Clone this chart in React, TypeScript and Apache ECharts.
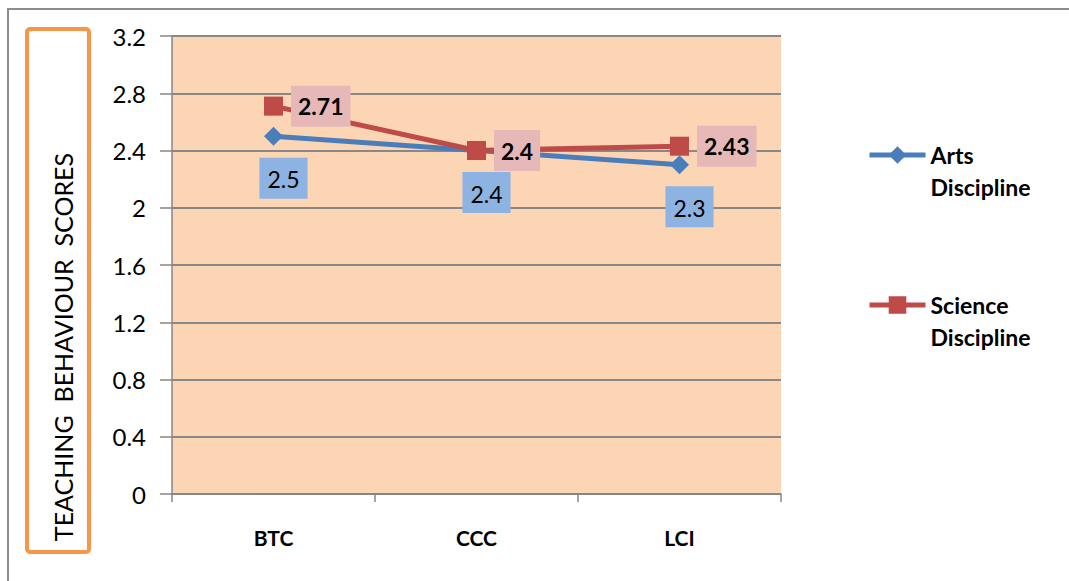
import React, { useEffect, useRef } from "react";
import * as echarts from "echarts";

const categories = ["BTC", "CCC", "LCI"];
const artsValues = [2.5, 2.4, 2.3];
const scienceValues = [2.71, 2.4, 2.43];
const seriesNames = ["Arts Discipline", "Science Discipline"];
const yAxisTitle = "TEACHING  BEHAVIOUR  SCORES";

const FONT = "Lato, 'Liberation Sans', sans-serif";

export default function App() {
  const ref = useRef<HTMLDivElement>(null);
  useEffect(() => {
    if (!ref.current) return;
    const chart = echarts.init(ref.current, null, { renderer: "svg" });
    chart.setOption({
      animation: false,
      textStyle: { fontFamily: FONT },
      graphic: [
        {
          type: "polyline",
          shape: { points: [[8, 600], [8, 9], [1080, 9]] },
          style: { stroke: "#8c8c8c", lineWidth: 2, fill: "none" },
          silent: true,
        },
        {
          type: "rect",
          shape: { x: 27, y: 29, width: 62, height: 523, r: 3 },
          style: { stroke: "#F79646", lineWidth: 4, fill: "#ffffff" },
          silent: true,
        },
        {
          type: "text",
          x: 63,
          y: 347,
          rotation: Math.PI / 2,
          style: {
            text: yAxisTitle,
            fontFamily: FONT,
            fontSize: 25,
            fill: "#000",
            align: "center",
            verticalAlign: "middle",
          },
          silent: true,
        },
      ],
      legend: {
        orient: "vertical",
        left: 862,
        top: 102,
        itemWidth: 56,
        itemHeight: 22,
        itemGap: 54,
        data: seriesNames,
        formatter: (name: string) => " \n" + name.replace(" ", "\n"),
        lineStyle: { width: 5 },
        textStyle: {
          fontFamily: FONT,
          fontSize: 23,
          fontWeight: "bold",
          color: "#000",
          lineHeight: 32,
        },
      },
      grid: {
        left: 172,
        right: 288,
        top: 36,
        bottom: 87,
        show: true,
        backgroundColor: "#FCD5B5",
        borderWidth: 0,
      },
      xAxis: {
        type: "category",
        data: categories,
        boundaryGap: true,
        axisLine: { lineStyle: { color: "#868686", width: 1.5 } },
        axisTick: { show: true, length: 8, lineStyle: { color: "#868686", width: 1.5 } },
        axisLabel: {
          margin: 33,
          fontFamily: FONT,
          fontSize: 21,
          fontWeight: "bold",
          color: "#000",
        },
      },
      yAxis: {
        type: "value",
        min: 0,
        max: 3.2,
        interval: 0.4,
        axisLine: { show: true, lineStyle: { color: "#868686", width: 1.5 } },
        axisTick: { show: true, length: 12, lineStyle: { color: "#868686", width: 1.5 } },
        splitLine: { show: true, lineStyle: { color: "#888888", width: 2 } },
        axisLabel: {
          margin: 26,
          fontFamily: FONT,
          fontSize: 24,
          color: "#000",
          formatter: (v: number) => String(Math.round(v * 10) / 10),
        },
      },
      series: [
        {
          name: seriesNames[0],
          type: "line",
          data: artsValues,
          symbol: "diamond",
          symbolSize: 19,
          itemStyle: { color: "#4A7EBB" },
          lineStyle: { color: "#4A7EBB", width: 5 },
          label: {
            show: true,
            position: "bottom",
            distance: 12,
            offset: [10, 0],
            fontFamily: FONT,
            fontSize: 23,
            color: "#000",
            backgroundColor: "#8DB3E2",
            padding: [10, 8, 8, 8],
          },
          z: 2,
        },
        {
          name: seriesNames[1],
          type: "line",
          data: scienceValues,
          symbol: "rect",
          symbolSize: 19,
          itemStyle: { color: "#BE4B48" },
          lineStyle: { color: "#BE4B48", width: 5 },
          label: {
            show: true,
            position: "right",
            distance: 8,
            fontFamily: FONT,
            fontSize: 23,
            fontWeight: "bold",
            color: "#000",
            backgroundColor: "#E6B9B8",
            padding: [10, 7, 8, 7],
          },
          z: 3,
        },
      ],
    });
    return () => chart.dispose();
  }, []);
  return (
    <div
      ref={ref}
      style={{ position: "absolute", left: 0, top: 0, width: 1069, height: 581 }}
    />
  );
}
